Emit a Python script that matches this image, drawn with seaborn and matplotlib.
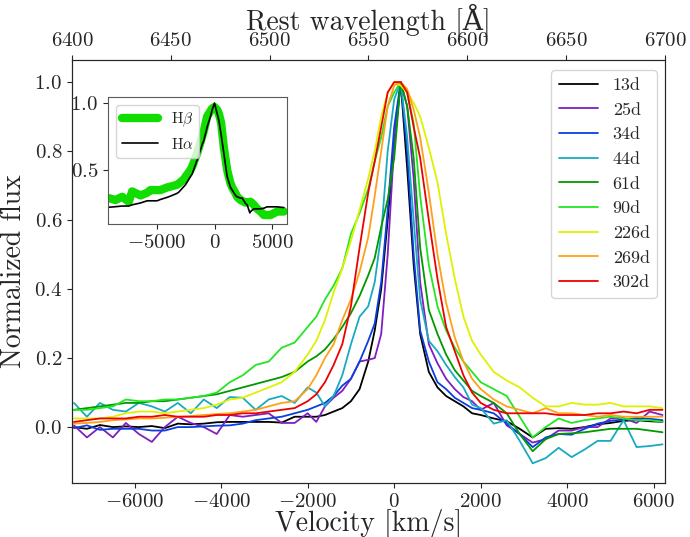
import numpy as np
import pandas as pd
import seaborn as sns
import matplotlib.pyplot as plt

plt.switch_backend("Agg")

# velocity grid [km/s] shared by all epochs
velocity = [-7400, -7100, -6800, -6500, -6200, -5900, -5600, -5300, -5000, -4700,
            -4400, -4100, -3800, -3500, -3200, -2900, -2600, -2300, -2000,
            -1800, -1600, -1400, -1200, -1000, -800, -600, -450, -300, -150,
            0, 150, 300, 450, 600, 800, 1000, 1200, 1400, 1600, 1800,
            2000, 2300, 2600, 2900, 3200, 3500, 3800, 4100, 4400, 4700,
            5000, 5300, 5600, 5900, 6200]

epochs = ["13d", "25d", "34d", "44d", "61d", "90d", "226d", "269d", "302d"]
colors = ["#000000", "#7f1fbf", "#0a3fe0", "#1aaac0", "#009900",
          "#22e622", "#ddf200", "#ffa01a", "#ee0000"]

flux_13d = [0.0, -0.005, 0.006, 0.0, 0.002, 0.0, 0.003, -0.003, 0.01, 0.008,
            0.01, 0.014, 0.015, 0.015, 0.015, 0.015, 0.013, 0.03, 0.03,
            0.03, 0.035, 0.045, 0.055, 0.075, 0.11, 0.19, 0.28, 0.4, 0.6,
            0.82, 1.0, 0.75, 0.47, 0.27, 0.16, 0.115, 0.09, 0.075, 0.06, 0.04,
            0.035, 0.025, 0.017, -0.005, -0.03, -0.005, -0.003, -0.005, 0.0, 0.008,
            0.012, 0.018, 0.02, 0.017, 0.015]
flux_25d = [0.005, -0.03, 0.0, -0.03, 0.012, -0.02, -0.043, 0.0, 0.03, 0.012,
            0.0, -0.02, 0.035, 0.03, 0.035, 0.04, 0.012, 0.012, 0.04,
            0.015, 0.06, 0.085, 0.105, 0.14, 0.19, 0.195, 0.2, 0.27, 0.5,
            0.82, 1.0, 0.93, 0.72, 0.42, 0.24, 0.185, 0.14, 0.11, 0.087, 0.075,
            0.05, 0.07, 0.005, -0.02, -0.045, -0.035, -0.01, -0.01, 0.0, 0.0,
            0.025, 0.026, 0.012, 0.045, 0.035]
flux_34d = [-0.003, 0.005, -0.008, -0.005, -0.005, -0.005, -0.01, -0.01, 0.0, 0.0,
            0.002, 0.004, 0.005, 0.01, 0.02, 0.025, 0.03, 0.04, 0.05,
            0.06, 0.07, 0.09, 0.12, 0.14, 0.19, 0.25, 0.3, 0.42, 0.63,
            0.87, 1.0, 0.8, 0.5, 0.28, 0.19, 0.13, 0.11, 0.085, 0.07, 0.055,
            0.05, 0.04, 0.01, -0.02, -0.058, -0.03, -0.02, -0.022, -0.005, 0.01,
            0.018, 0.022, 0.026, 0.024, 0.02]
flux_44d = [0.07, 0.03, 0.07, 0.05, 0.045, 0.07, 0.06, 0.045, 0.07, 0.04,
            0.08, 0.055, 0.087, 0.085, 0.05, 0.08, 0.09, 0.07, 0.115,
            0.1, 0.06, 0.09, 0.15, 0.24, 0.32, 0.35, 0.42, 0.56, 0.8,
            0.95, 1.0, 0.84, 0.6, 0.37, 0.25, 0.22, 0.18, 0.145, 0.115, 0.065,
            0.055, 0.01, 0.02, -0.04, -0.105, -0.09, -0.06, -0.087, -0.065, -0.04,
            -0.04, 0.02, -0.058, -0.055, -0.05]
flux_61d = [0.05, 0.055, 0.06, 0.065, 0.07, 0.07, 0.075, 0.075, 0.08, 0.085,
            0.09, 0.095, 0.105, 0.115, 0.125, 0.135, 0.145, 0.16, 0.19,
            0.205, 0.225, 0.255, 0.29, 0.33, 0.38, 0.44, 0.49, 0.58, 0.66,
            0.78, 1.0, 0.93, 0.78, 0.52, 0.34, 0.27, 0.21, 0.165, 0.135, 0.105,
            0.09, 0.07, 0.04, -0.02, -0.07, -0.035, -0.02, -0.018, -0.015, -0.01,
            -0.005, -0.005, -0.005, -0.01, -0.015]
flux_90d = [0.05, 0.05, 0.055, 0.06, 0.08, 0.075, 0.075, 0.08, 0.08, 0.085,
            0.09, 0.1, 0.13, 0.15, 0.18, 0.19, 0.23, 0.245, 0.29,
            0.32, 0.37, 0.41, 0.46, 0.56, 0.62, 0.69, 0.77, 0.84, 0.93,
            0.97, 1.0, 0.97, 0.88, 0.67, 0.47, 0.35, 0.28, 0.23, 0.19, 0.16,
            0.13, 0.11, 0.09, 0.03, -0.03, 0.0, 0.025, 0.012, 0.02, 0.025,
            0.03, 0.025, 0.02, 0.02, 0.015]
flux_226d = [0.025, 0.025, 0.025, 0.03, 0.04, 0.045, 0.045, 0.04, 0.045, 0.05,
             0.055, 0.065, 0.08, 0.085, 0.1, 0.115, 0.13, 0.16, 0.21,
             0.25, 0.31, 0.39, 0.46, 0.54, 0.63, 0.72, 0.8, 0.9, 0.97,
             1.0, 0.99, 0.97, 0.94, 0.9, 0.81, 0.71, 0.56, 0.43, 0.32, 0.25,
             0.21, 0.16, 0.135, 0.115, 0.085, 0.06, 0.06, 0.07, 0.065, 0.065,
             0.07, 0.06, 0.06, 0.06, 0.055]
flux_269d = [0.01, 0.012, 0.015, 0.02, 0.022, 0.025, 0.025, 0.027, 0.03, 0.032,
             0.035, 0.038, 0.04, 0.045, 0.05, 0.06, 0.07, 0.075, 0.11,
             0.15, 0.2, 0.24, 0.31, 0.37, 0.45, 0.55, 0.67, 0.8, 0.93,
             0.99, 1.0, 0.98, 0.92, 0.84, 0.68, 0.5, 0.36, 0.26, 0.19, 0.14,
             0.11, 0.08, 0.06, 0.05, 0.04, 0.055, 0.04, 0.04, 0.035, 0.03,
             0.035, 0.03, 0.03, 0.03, 0.03]
flux_302d = [0.015, 0.02, 0.025, 0.025, 0.025, 0.03, 0.03, 0.035, 0.03, 0.03,
             0.03, 0.035, 0.035, 0.04, 0.04, 0.045, 0.05, 0.055, 0.075,
             0.095, 0.13, 0.18, 0.24, 0.35, 0.52, 0.68, 0.77, 0.87, 0.97,
             1.0, 1.0, 0.97, 0.87, 0.78, 0.6, 0.43, 0.29, 0.22, 0.15, 0.1,
             0.07, 0.05, 0.04, 0.04, 0.04, 0.04, 0.035, 0.035, 0.035, 0.04,
             0.04, 0.045, 0.04, 0.05, 0.05]

fluxes = [flux_13d, flux_25d, flux_34d, flux_44d, flux_61d,
          flux_90d, flux_226d, flux_269d, flux_302d]

# inset: H-beta vs H-alpha
inset_vel = [-9190, -8610, -8030, -7450, -7160, -6430, -5860, -5570, -4990, -4700,
             -4110, -3830, -3245, -3100, -2670, -2520, -2090, -1940, -1510, -1070,
             -930, -640, -350, -200, 0, 230, 380, 580, 810, 1100, 1390, 1540,
             1830, 1970, 2260, 2410, 2700, 2840, 3070, 3130, 3420, 3710, 4000,
             4290, 4580, 4870, 5450, 5970, 6030]
hbeta = [0.29, 0.276, 0.30, 0.263, 0.34, 0.31, 0.33, 0.35, 0.35, 0.35,
         0.37, 0.376, 0.39, 0.40, 0.43, 0.45, 0.50, 0.525, 0.625, 0.75,
         0.79, 0.90, 0.94, 0.96, 0.97, 0.95, 0.92, 0.85, 0.67, 0.50, 0.40, 0.37,
         0.325, 0.30, 0.276, 0.27, 0.256, 0.26, 0.262, 0.263, 0.24, 0.21, 0.19,
         0.164, 0.164, 0.164, 0.19, 0.19, 0.19]
halpha = [0.222, 0.226, 0.231, 0.231, 0.24, 0.254, 0.27, 0.27, 0.27, 0.28,
          0.296, 0.305, 0.326, 0.335, 0.376, 0.39, 0.45, 0.47, 0.575, 0.69,
          0.72, 0.82, 0.90, 0.95, 1.0, 0.92, 0.87, 0.76, 0.625, 0.45, 0.37, 0.35,
          0.31, 0.30, 0.29, 0.29, 0.25, 0.24, 0.18, 0.19, 0.21, 0.21, 0.21,
          0.215, 0.225, 0.225, 0.225, 0.22, 0.22]

sns.set_style("ticks")
plt.rcParams["font.family"] = ["cmr10", "DejaVu Serif"]
plt.rcParams["mathtext.fontset"] = "cm"
plt.rcParams["axes.formatter.use_mathtext"] = True
plt.rcParams["axes.unicode_minus"] = True

fig = plt.figure(figsize=(6.9, 5.37), dpi=100)
ax = fig.add_axes([0.1043, 0.1006, 0.8595, 0.7877])

for name, col, fl in zip(epochs, colors, fluxes):
    sns.lineplot(x=velocity, y=fl, ax=ax, color=col, lw=1.3, label=name)

c = 299792.458
lam0 = 6563.0
ax.set_xlim(c * (6400 / lam0 - 1), c * (6700 / lam0 - 1))
ax.set_ylim(-0.162, 1.064)
ax.set_xticks([-6000, -4000, -2000, 0, 2000, 4000, 6000])
ax.set_yticks([0.0, 0.2, 0.4, 0.6, 0.8, 1.0])
ax.tick_params(labelsize=15)
ax.set_xlabel("Velocity [km/s]", fontsize=20, labelpad=-1)
ax.set_ylabel("Normalized flux", fontsize=20, labelpad=5)
ax.legend(loc="upper right", bbox_to_anchor=(0.9865, 0.976), borderaxespad=0,
          fontsize=13, labelspacing=0.5, handlelength=2.2, fancybox=True)

top = ax.twiny()
top.set_xlim(6400, 6700)
top.set_xticks([6400, 6450, 6500, 6550, 6600, 6650, 6700])
top.tick_params(labelsize=15)
top.set_xlabel("Rest wavelength [Å]", fontsize=20, labelpad=2)

ins = fig.add_axes([0.1565, 0.5829, 0.2594, 0.2365])
sns.lineplot(x=inset_vel, y=hbeta, ax=ins, color="#11dd00", lw=6, label=r"H$\beta$")
sns.lineplot(x=inset_vel, y=halpha, ax=ins, color="black", lw=1.2, label=r"H$\alpha$")
ins.set_xlim(-9260, 6300)
ins.set_ylim(0.097, 1.045)
ins.set_xticks([-5000, 0, 5000])
ins.set_yticks([0.5, 1.0])
ins.tick_params(labelsize=15)
for sp in ins.spines.values():
    sp.set_edgecolor("0.35")
ins.legend(loc="upper left", fontsize=11, handlelength=2.4)

plt.savefig("out.png", dpi=100)
